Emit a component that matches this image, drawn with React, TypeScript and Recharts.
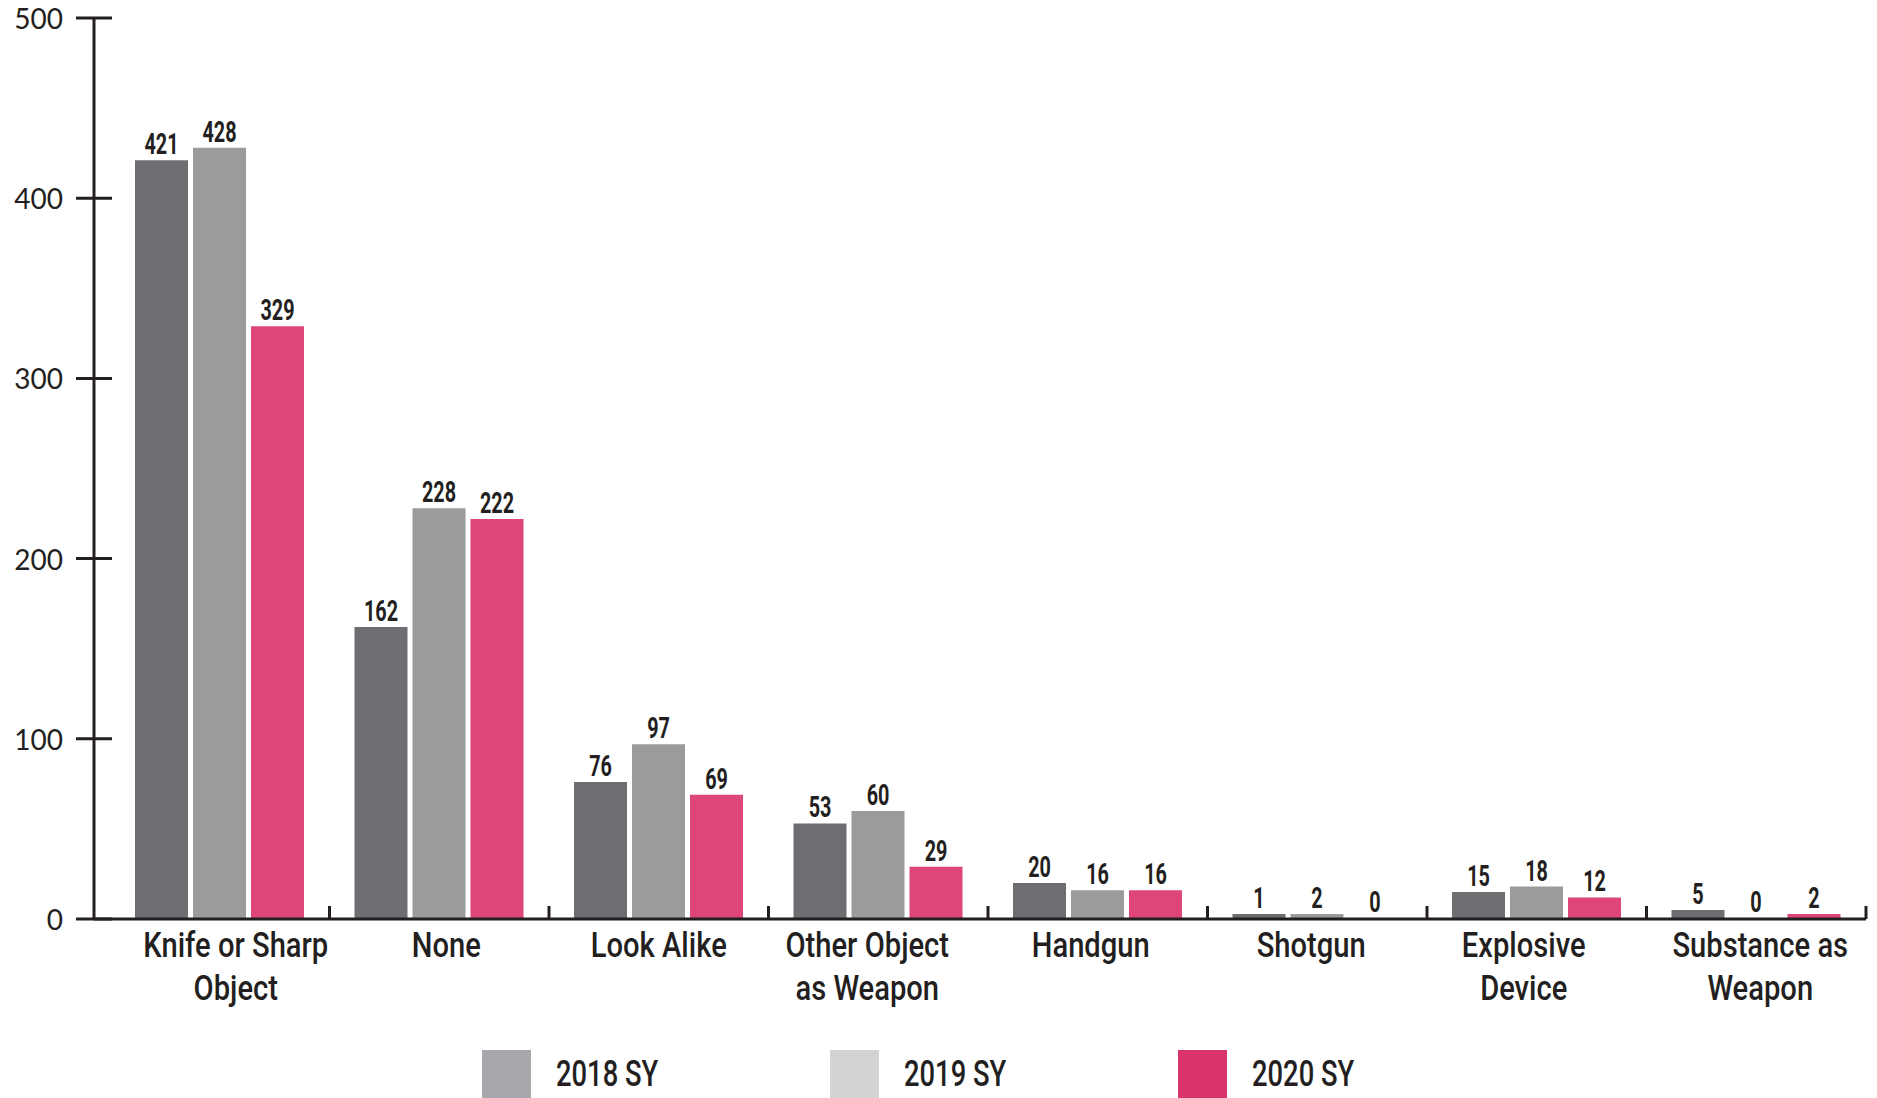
import { Bar, BarChart, LabelList, XAxis, YAxis } from 'recharts';

const categories = [
  'Knife or Sharp Object',
  'None',
  'Look Alike',
  'Other Object as Weapon',
  'Handgun',
  'Shotgun',
  'Explosive Device',
  'Substance as Weapon',
];
const categoryLines = [
  ['Knife or Sharp', 'Object'],
  ['None'],
  ['Look Alike'],
  ['Other Object', 'as Weapon'],
  ['Handgun'],
  ['Shotgun'],
  ['Explosive', 'Device'],
  ['Substance as', 'Weapon'],
];
const sy2018 = [421, 162, 76, 53, 20, 1, 15, 5];
const sy2019 = [428, 228, 97, 60, 16, 2, 18, 0];
const sy2020 = [329, 222, 69, 29, 16, 0, 12, 2];
const yTicks = [0, 100, 200, 300, 400, 500];

const seriesNames = ['2018 SY', '2019 SY', '2020 SY'];
const barColors = ['#6d6e71', '#9a9b9d', '#de4677'];
const legendColors = ['#a7a8ab', '#d1d3d4', '#d9336b'];

const data = categories.map((name, i) => ({
  name,
  s2018: sy2018[i],
  s2019: sy2019[i],
  s2020: sy2020[i],
}));

// layout
const W = 1877;
const H = 1098;
const AXIS_X = 94;
const RIGHT = 1866;
const PAD_LEFT = 16;
const BAND = (RIGHT - AXIS_X - PAD_LEFT) / categories.length;
// the original's category labels are hand placed, not exactly centred
const labelNudge = [16, 7, 0, -11, -7, -6, -13, 4];
const INK = '#231f20';
const FONT = "Roboto, 'Noto Sans', sans-serif";

/* eslint-disable @typescript-eslint/no-explicit-any */
// fake a condensed face by squeezing Roboto horizontally
function Narrow({ x, y, size, weight = 500, squeeze, children }: any) {
  return (
    <text
      transform={`translate(${x},${y}) scale(${squeeze},1)`}
      textAnchor="middle"
      fill={INK}
      fontSize={size}
      fontWeight={weight}
      fontFamily={FONT}
    >
      {children}
    </text>
  );
}

function YTick({ x, y, payload }: any) {
  return (
    <g>
      <line x1={x - 18} x2={x + 18} y1={y} y2={y} stroke={INK} strokeWidth={3} />
      <text
        x={x - 31}
        y={y + 11}
        textAnchor="end"
        fill={INK}
        fontSize={28}
        fontWeight={400}
        fontFamily="Lato, 'Open Sans', sans-serif"
      >
        {payload.value}
      </text>
    </g>
  );
}

function XTick({ x, y, index }: any) {
  const lines = categoryLines[index] ?? [];
  const cx = x + (labelNudge[index] ?? 0);
  return (
    <g>
      <line x1={x + BAND / 2} x2={x + BAND / 2} y1={y - 13} y2={y} stroke={INK} strokeWidth={3} />
      {lines.map((l, i) => (
        <Narrow key={l} x={cx} y={y + 38 + i * 43} size={36} squeeze={0.81}>
          {l}
        </Narrow>
      ))}
    </g>
  );
}

function ValueLabel({ x, y, width, value }: any) {
  return (
    <Narrow x={x + width / 2} y={y - 6} size={30} weight={700} squeeze={0.66}>
      {value}
    </Narrow>
  );
}

function Legend() {
  return (
    <div style={{ position: 'absolute', left: 482, top: 1050, display: 'flex' }}>
      {seriesNames.map((s, i) => (
        <div key={s} style={{ width: 348, display: 'flex', alignItems: 'center' }}>
          <div style={{ width: 49, height: 48, background: legendColors[i] }} />
          <span
            style={{
              marginLeft: 25,
              display: 'inline-block',
              transform: 'scaleX(0.76)',
              transformOrigin: 'left center',
              fontFamily: FONT,
              fontWeight: 500,
              fontSize: 36,
              color: INK,
              lineHeight: '48px',
              whiteSpace: 'nowrap',
            }}
          >
            {s}
          </span>
        </div>
      ))}
    </div>
  );
}

// tiny values still get a visible sliver, like the original graphic
const minBar = (v: number) => (v === 0 ? 1 : 5);

export default function App() {
  const keys = ['s2018', 's2019', 's2020'];
  return (
    <div style={{ position: 'absolute', left: 0, top: 0, width: W, height: H, background: '#fff' }}>
      <BarChart
        width={W}
        height={H}
        data={data}
        margin={{ top: 18, right: W - RIGHT, bottom: 0, left: 0 }}
        barSize={53}
        barGap={5}
      >
        <XAxis
          dataKey="name"
          height={H - 919}
          padding={{ left: PAD_LEFT, right: 0 }}
          axisLine={{ stroke: INK, strokeWidth: 3 }}
          tickLine={false}
          tickSize={0}
          tickMargin={0}
          interval={0}
          tick={<XTick />}
        />
        <YAxis
          width={AXIS_X}
          domain={[0, 500]}
          ticks={yTicks}
          interval={0}
          axisLine={{ stroke: INK, strokeWidth: 3 }}
          tickLine={false}
          tickSize={0}
          tickMargin={0}
          tick={<YTick />}
        />
        {keys.map((k, i) => (
          <Bar
            key={k}
            dataKey={k}
            name={seriesNames[i]}
            fill={barColors[i]}
            minPointSize={minBar}
            isAnimationActive={false}
          >
            <LabelList dataKey={k} content={<ValueLabel />} />
          </Bar>
        ))}
      </BarChart>
      <Legend />
    </div>
  );
}
